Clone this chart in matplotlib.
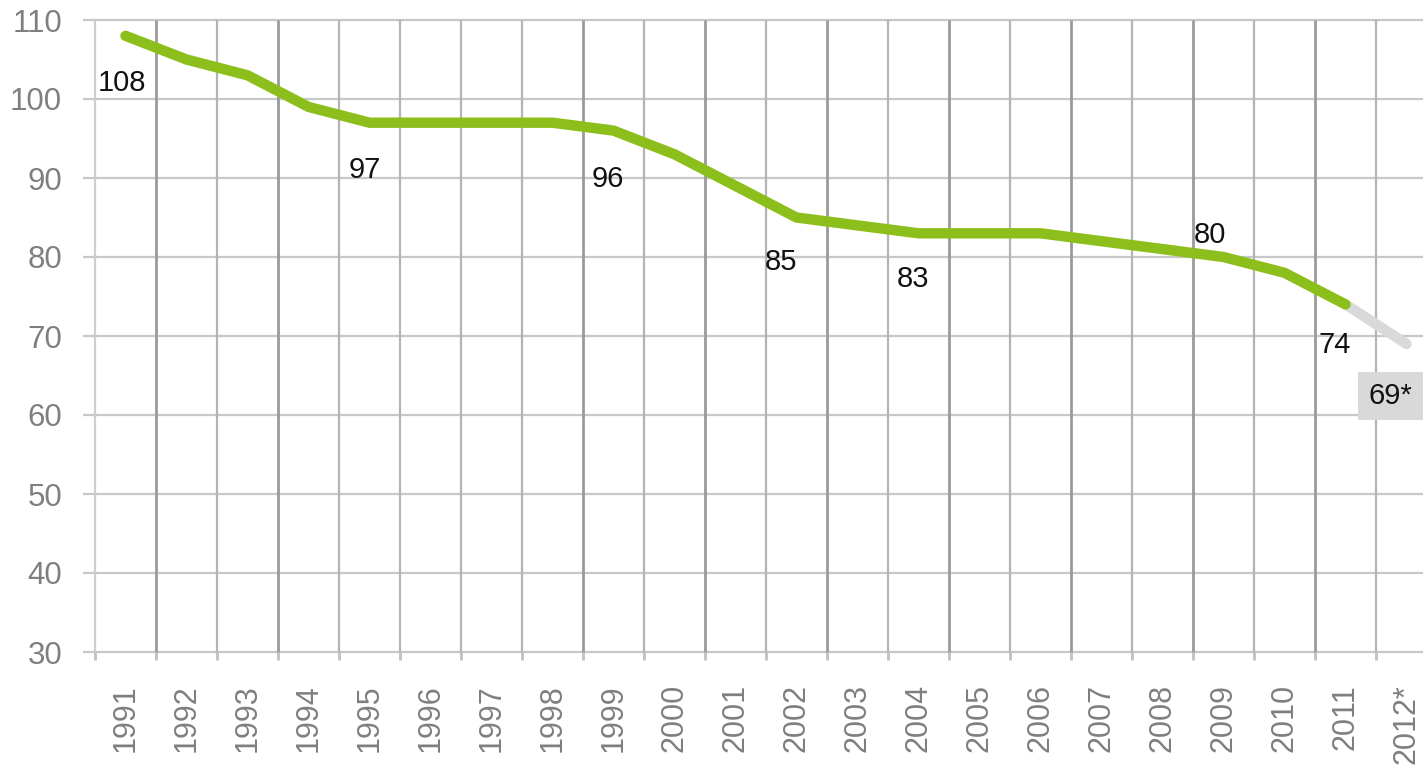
import matplotlib
matplotlib.use("Agg")
import matplotlib.pyplot as plt
import numpy as np

plt.rcParams['font.family'] = ['Liberation Sans', 'DejaVu Sans']

years = ['1991', '1992', '1993', '1994', '1995', '1996', '1997', '1998', '1999', '2000', '2001',
         '2002', '2003', '2004', '2005', '2006', '2007', '2008', '2009', '2010', '2011', '2012*']
values = [108, 105, 103, 99, 97, 97, 97, 97, 96, 93, 89,
          85, 84, 83, 83, 83, 82, 81, 80, 78, 74, 69]
y_ticks = [30, 40, 50, 60, 70, 80, 90, 100, 110]

# which points get a value label, and where (pixel offsets from the point)
label_offsets = {0: (-4, -47), 4: (-5, -47), 8: (-6, -48), 11: (-15, -45),
                 13: (-6, -46), 18: (-14, 22), 20: (-11, -41)}

GREEN = '#8dbf1c'
GREY_LINE = '#d9d9d9'
TICK_COLOR = '#7f7f7f'

fig = plt.figure(figsize=(14.23, 7.66), dpi=100)
ax = fig.add_axes([95 / 1423, 1 - 652 / 766, 1 - 95 / 1423, (652 - 20) / 766])

x = np.arange(len(years))
n_real = len(years) - 1

# grid
for yv in y_ticks:
    ax.axhline(yv, color='#c8c8c8', lw=1.6, zorder=1, clip_on=False)
bounds = np.arange(len(years) + 1) - 0.5
dark = {0.5, 2.5, 7.5, 9.5, 11.5, 13.5, 15.5, 17.5, 19.5}
for b in bounds:
    col = '#9a9a9a' if b in dark else '#b4b4b4'
    lw = 2.0 if b in dark else 1.6
    if b == -0.5:
        col, lw = '#cfcfcf', 1.6
    ax.vlines(b, 30, 110, colors=col, lw=lw, zorder=1, clip_on=False)

for s in ax.spines.values():
    s.set_visible(False)

# line
ax.plot(x[:n_real], values[:n_real], color=GREEN, lw=7.5, solid_capstyle='round',
        solid_joinstyle='round', zorder=3)
ax.plot(x[n_real - 1:], values[n_real - 1:], color=GREY_LINE, lw=7.5,
        solid_capstyle='round', zorder=2)
ax.plot(x[n_real - 1:n_real], values[n_real - 1:n_real], color=GREEN, lw=7.5,
        solid_capstyle='round', zorder=3)

# value labels
for i, (dx, dy) in label_offsets.items():
    ax.annotate(str(values[i]), (x[i], values[i]), xytext=(dx, dy),
                textcoords='offset pixels', ha='center', va='center',
                fontsize=21, color='#111111', zorder=4)
ax.annotate(f'{values[-1]}*', (x[-1], values[-1]), xytext=(-16, -52),
            textcoords='offset pixels', ha='center', va='center',
            fontsize=21, color='#111111', zorder=4,
            bbox=dict(boxstyle='square,pad=0.35', fc='#d9d9d9', ec='none'))

# ticks
ax.set_yticks(y_ticks)
ax.set_yticklabels([str(v) for v in y_ticks])
ax.tick_params(axis='y', length=8.6, width=1.6, color='#c8c8c8', pad=15,
               labelsize=22.5, labelcolor=TICK_COLOR)
ax.set_xticks(x)
ax.set_xticklabels(years, rotation=90, va='top', ha='center')
ax.tick_params(axis='x', which='major', length=0, pad=23, labelsize=22,
               labelcolor=TICK_COLOR)
ax.set_xticks(bounds, minor=True)
ax.tick_params(axis='x', which='minor', length=5.8, width=2, color='#c0c0c0')

# limits last so the tick setters don't widen them
ax.set_xlim(-0.5, (1423 - 125.5) / 61)
ax.set_ylim(30, 110)

fig.savefig('out.png', dpi=100)
